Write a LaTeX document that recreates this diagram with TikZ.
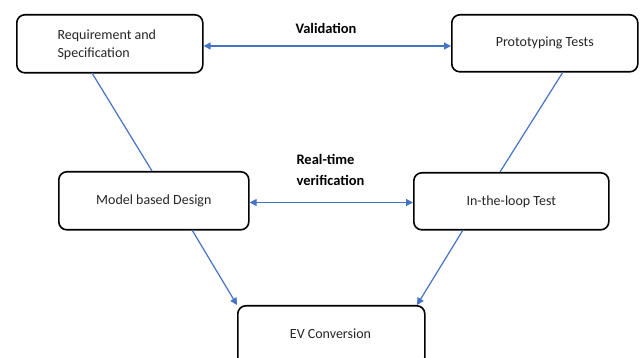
\documentclass[tikz,border=0pt]{standalone}
\usepackage{fontspec}
\setmainfont{Carlito}
\usetikzlibrary{arrows.meta}
\begin{document}
\begin{tikzpicture}[x=1pt,y=-1pt,
  box/.style={draw=black, line width=1.6pt, rounded corners=8pt, fill=white, font=\fontsize{14}{17}\selectfont, text=black!85},
  conn/.style={draw={rgb,255:red,68;green,114;blue,196}, line width=1.2pt},
  arr/.style={conn, -{Triangle[length=7pt,width=7pt]}},
  darr/.style={conn, {Triangle[length=7pt,width=7pt]}-{Triangle[length=7pt,width=7pt]}},
  lbl/.style={font=\bfseries\fontsize{14.5}{21}\selectfont, text=black}]
\useasboundingbox (0,0) rectangle (641,358);
\node[box, minimum width=186pt, minimum height=58pt, anchor=north west] (req) at (16,14) {};
\node[anchor=west, align=left, font=\fontsize{14}{17.5}\selectfont, text=black!85] (reqt) at (54,45) {Requirement and\\Specification};
\node[box, minimum width=186pt, minimum height=57pt, anchor=north west] (proto) at (451,14) {Prototyping Tests};
\node[box, minimum width=190pt, minimum height=58pt, anchor=north west] (model) at (58,171) {Model based Design};
\node[box, minimum width=195pt, minimum height=57pt, anchor=north west] (loop) at (413,172) {In-the-loop Test};
\node[box, minimum width=187pt, minimum height=60pt, anchor=north west] (ev) at (237,305) {};
\node[font=\fontsize{14}{17}\selectfont, text=black!85] (evt) at (330.5,334) {EV Conversion};
\node[lbl] (val) at (326,28) {Validation};
\node[lbl, anchor=west, align=left] (rt) at (293,170) {Real-time\\verification};
\coordinate (a1) at (92,73);
\coordinate (a2) at (152,171);
\coordinate (b1) at (563,72);
\coordinate (b2) at (500,172);
\draw[conn] (a1) -- (a2);
\draw[conn] (b1) -- (b2);
\draw[darr] (req.east |- 0,46) -- (proto.west |- 0,46);
\draw[darr] (model.east |- 0,202.5) -- (loop.west |- 0,202.5);
\draw[arr] (192,230) -- (ev.north west);
\draw[arr] (463,230) -- (417,305);
\end{tikzpicture}
\end{document}
